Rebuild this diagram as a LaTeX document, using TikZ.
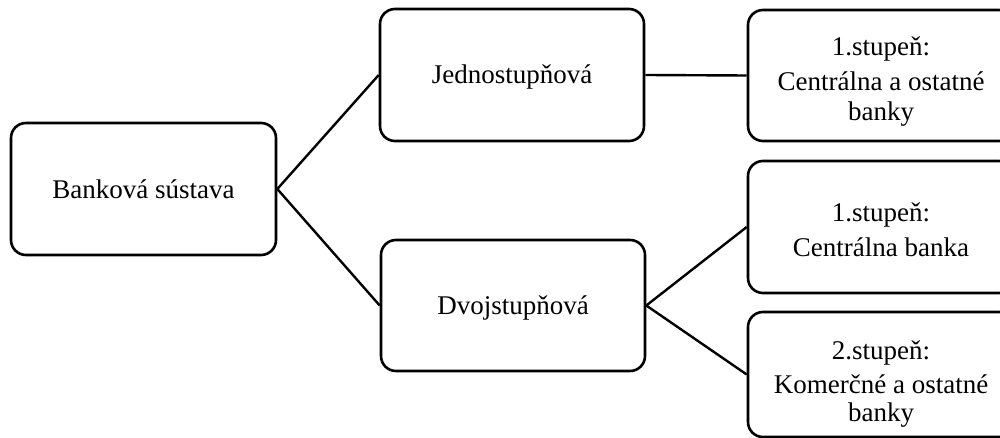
\documentclass[tikz,border=0pt]{standalone}
\usepackage{fontspec}
\setmainfont{Liberation Serif}
\begin{document}
\begin{tikzpicture}[x=0.5pt,y=-0.5pt,
  box/.style={draw=black,line width=1.3pt,rounded corners=7.5pt,inner sep=0pt},
  txt/.style={align=center,inner sep=0pt,font=\fontsize{13.5}{15}\selectfont},
  conn/.style={draw=black,line width=1.2pt}]
\useasboundingbox (0,0) rectangle (1000,438);
\clip (0,0) rectangle (1000,438);
\node[box,minimum width=132.5pt,minimum height=66pt] (bank) at (143.5,189) {};
\node[txt] (bankt) at (bank.center) {Banková sústava};
\node[box,minimum width=132pt,minimum height=66pt] (jedno) at (512,75) {};
\node[txt] (jednot) at ([yshift=-1pt]jedno.center) {Jednostupňová};
\node[box,minimum width=132pt,minimum height=65.5pt] (dvoj) at (513,305.5) {};
\node[txt] (dvojt) at ([yshift=-1pt]dvoj.center) {Dvojstupňová};
\node[box,minimum width=133pt,minimum height=65.5pt] (b1) at (881,75.5) {};
\node[txt] (b1t) at ([yshift=-3pt]b1.center) {1.stupeň:\\[2.5pt]Centrálna a ostatné\\banky};
\node[box,minimum width=133pt,minimum height=66pt] (b2) at (881,227) {};
\node[txt] (b2t) at ([yshift=-1.5pt]b2.center) {1.stupeň:\\[2.5pt]Centrálna banka};
\node[box,minimum width=133pt,minimum height=62.5pt] (b3) at (881,374.5) {};
\node[txt] (b3t) at ([yshift=-5pt]b3.center) {2.stupeň:\\[2pt]Komerčné a ostatné\\[-1pt]banky};
\draw[conn] (bank.east) -- (jedno.west);
\draw[conn] (bank.east) -- (dvoj.west);
\draw[conn] (jedno.east) -- (b1.west);
\draw[conn] (dvoj.east) -- (b2.west);
\draw[conn] (dvoj.east) -- (b3.west);
\end{tikzpicture}
\end{document}
